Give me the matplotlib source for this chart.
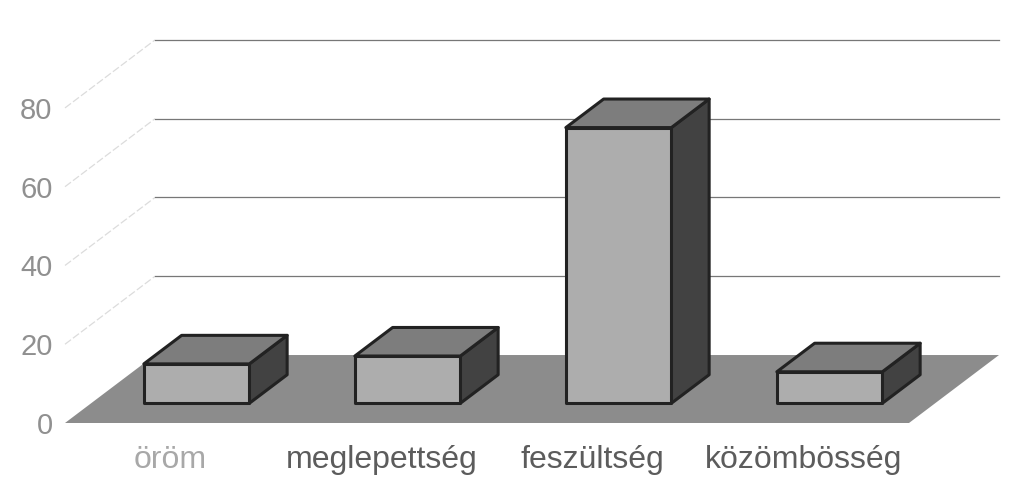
import numpy as np
import matplotlib
matplotlib.use('Agg')
import matplotlib.pyplot as plt
from matplotlib.patches import Polygon

# Chart values
categories = ['öröm', 'meglepettség', 'feszültség', 'közömbösség']
values = [10, 12, 70, 8]
yticks = [0, 20, 40, 60, 80]

plt.rcParams['font.family'] = ['Liberation Sans', 'DejaVu Sans']

fig = plt.figure(figsize=(10.24, 5.04), dpi=100)
ax = fig.add_axes([65 / 1024, 81 / 504, 959 / 1024, 423 / 504])
ax.set_xlim(0, 4.545)
ax.set_ylim(0, 107.4)


# Oblique projection: depth 0 is the front of the floor, 1 the back wall
def proj(x, y, d):
    return (x + 0.4265 * d, y + 17.26 * d)


n = len(categories)

# Gridlines run up the side wall, then along the back wall
for level in yticks[1:]:
    pts = [proj(0, level, 0), proj(0, level, 1), proj(n, level, 1)]
    xs, ys = zip(*pts)
    ax.plot(xs[:2], ys[:2], color='#dcdcdc', lw=0.9, ls=(0, (6, 2)), zorder=1, clip_on=False)
    ax.plot(xs[1:], ys[1:], color='#777777', lw=0.9, zorder=1, clip_on=False)

# Floor
floor = [proj(0, 0, 0), proj(n, 0, 0), proj(n, 0, 1), proj(0, 0, 1)]
ax.add_patch(Polygon(floor, closed=True, facecolor='#8c8c8c', edgecolor='none', zorder=2))

# Bars
half = 0.25
d0, d1 = 0.29, 0.71
for i, val in enumerate(values):
    c = i + 0.5
    l, r = c - half, c + half
    front = [proj(l, 0, d0), proj(r, 0, d0), proj(r, val, d0), proj(l, val, d0)]
    top = [proj(l, val, d0), proj(r, val, d0), proj(r, val, d1), proj(l, val, d1)]
    side = [proj(r, 0, d0), proj(r, 0, d1), proj(r, val, d1), proj(r, val, d0)]
    for pts, col in [(side, '#424242'), (top, '#7d7d7d'), (front, '#adadad')]:
        ax.add_patch(Polygon(pts, closed=True, facecolor=col, edgecolor='#222222',
                             lw=2.2, joinstyle='round', zorder=3 + i, clip_on=False))

for s in ax.spines.values():
    s.set_visible(False)
ax.patch.set_visible(False)

ax.set_yticks(yticks)
ax.tick_params(axis='y', length=0, pad=9, labelsize=21, labelcolor='#909090')
ax.set_xticks([i + 0.5 for i in range(n)])
ax.set_xticklabels(categories)
ax.tick_params(axis='x', length=0, pad=16, labelsize=23, labelcolor='#5c5c5c')
ax.get_xticklabels()[0].set_color('#a8a8a8')

fig.savefig('out.png', dpi=100, facecolor='white')
